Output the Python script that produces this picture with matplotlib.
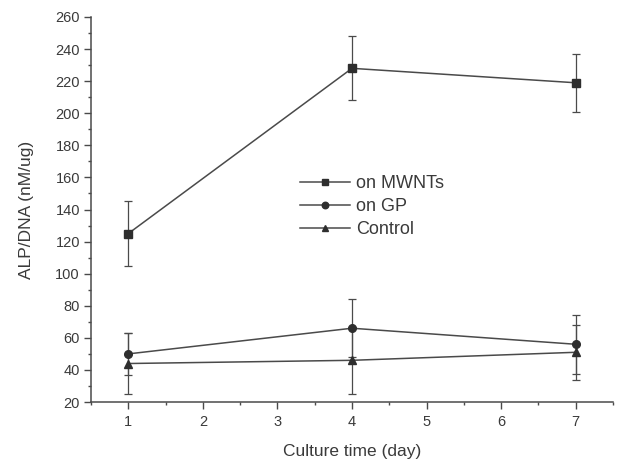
import matplotlib
matplotlib.use("Agg")
import matplotlib.pyplot as plt
from matplotlib.ticker import MultipleLocator

plt.rcParams['font.family'] = ['Liberation Sans', 'DejaVu Sans']

days = [1, 4, 7]
mwnts = [125, 228, 219]
mwnts_err = [20, 20, 18]
gp = [50, 66, 56]
gp_err = [13, 18, 18.5]
control = [44, 46, 51]
control_err = [19, 21, 17]

labels = ["on MWNTs", "on GP", "Control"]
xticks = [1, 2, 3, 4, 5, 6, 7]
yticks = list(range(20, 261, 20))

fig = plt.figure(figsize=(6.22, 4.63), dpi=100)
ax = fig.add_axes([0.1463, 0.1317, 0.8392, 0.8316])

line_c = '#4a4a4a'
mark_c = '#2e2e2e'
text_c = '#3a3a3a'

series = [(mwnts, mwnts_err, 's'), (gp, gp_err, 'o'), (control, control_err, '^')]
for (vals, errs, m), lab in zip(series, labels):
    ax.errorbar(days, vals, yerr=errs, color=line_c, lw=1.1, marker=m,
                markersize=5.5, markerfacecolor=mark_c, markeredgecolor=mark_c,
                ecolor=line_c, elinewidth=0.9, capsize=2.8, capthick=0.9,
                label=lab)

ax.set_xlim(0.5, 7.5)
ax.set_ylim(20, 260)
ax.set_xticks(xticks)
ax.set_yticks(yticks)
ax.xaxis.set_minor_locator(MultipleLocator(0.5))
ax.yaxis.set_minor_locator(MultipleLocator(10))
ax.tick_params(which='major', direction='out', length=5, width=1, color=line_c,
               labelsize=10.5, labelcolor=text_c, pad=3)
ax.tick_params(axis='x', which='major', pad=4)
ax.tick_params(which='minor', direction='out', length=2.5, width=1, color=line_c)
for s in ['top', 'right']:
    ax.spines[s].set_visible(False)
for s in ['left', 'bottom']:
    ax.spines[s].set_color(line_c)
    ax.spines[s].set_linewidth(1.1)

ax.set_xlabel("Culture time (day)", fontsize=12.5, color=text_c, labelpad=11)
ax.set_ylabel("ALP/DNA (nM/ug)", fontsize=12.5, color=text_c, labelpad=15)

h, l = ax.get_legend_handles_labels()
h = [x[0] for x in h]
leg = fig.legend(h, l, loc='upper left', bbox_to_anchor=(0.482, 0.622),
                 frameon=False, fontsize=13, handlelength=2.8, handletextpad=0.3,
                 labelspacing=0.33, borderpad=0, borderaxespad=0, markerscale=0.85)
for t in leg.get_texts():
    t.set_color(text_c)

fig.savefig("out.png", dpi=100)
